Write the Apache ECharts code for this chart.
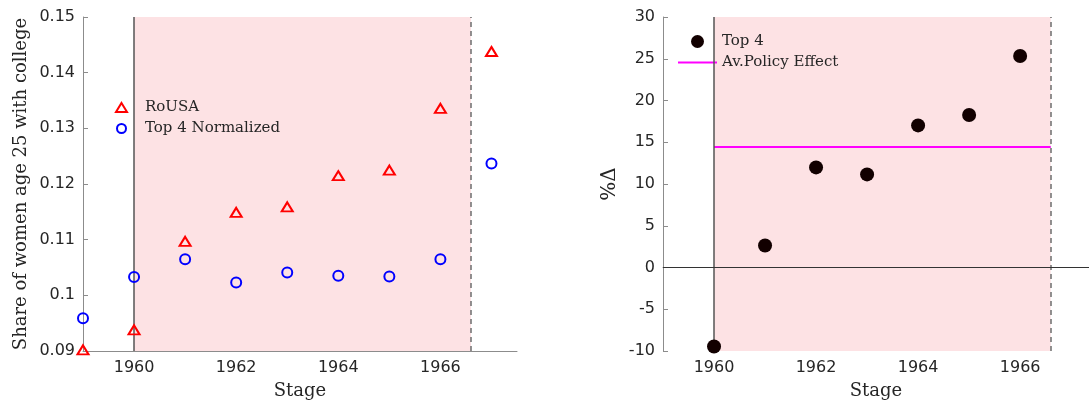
<!DOCTYPE html>
<html><head><meta charset="utf-8">
<script src="https://cdn.jsdelivr.net/npm/echarts@6/dist/echarts.min.js"></script>
<style>html,body{margin:0;padding:0;background:#fff}#c{width:1089px;height:406px}</style>
</head><body><div id="c"></div>
<script>
// ---- data ----
const years = [1959, 1960, 1961, 1962, 1963, 1964, 1965, 1966, 1967];
const rousa = [0.0902, 0.0938, 0.1097, 0.1149, 0.1159, 0.1215, 0.1225, 0.1336, 0.1438];
const top4Normalized = [0.0959, 0.1033, 0.1065, 0.1023, 0.1041, 0.1035, 0.1034, 0.1065, 0.1237];
const effectYears = [1960, 1961, 1962, 1963, 1964, 1965, 1966];
const top4Effect = [-9.47, 2.64, 11.99, 11.15, 17.02, 18.26, 25.33];
const avPolicyEffect = 14.43;
const policyStart = 1960;
const policyEnd = 1966.6;
const xTickValues = [1960, 1962, 1964, 1966];

const zip = (xs, ys) => xs.map((x, i) => [x, ys[i]]);

const SERIF = 'DejaVu Serif';
const SANS = 'DejaVu Sans';
const AXIS_COLOR = '#8c8c8c';
const LABEL_COLOR = '#262626';
const SHADE = '#fde2e4';

function xAxisDef(gridIndex, max) {
  return {
    type: 'value', gridIndex, min: 1959, max,
    name: 'Stage', nameLocation: 'middle', nameGap: 31,
    nameTextStyle: { fontFamily: SERIF, fontSize: 18, color: LABEL_COLOR },
    axisLine: { show: true, lineStyle: { color: AXIS_COLOR, width: 1 } },
    axisTick: { show: true, inside: true, length: 5, customValues: xTickValues, lineStyle: { color: AXIS_COLOR } },
    axisLabel: { customValues: xTickValues, fontFamily: SANS, fontSize: 16, color: LABEL_COLOR, margin: 9,
      formatter: v => String(v) },
    splitLine: { show: false }
  };
}

function guides() {
  return {
    markArea: {
      silent: true,
      itemStyle: { color: SHADE },
      data: [[{ xAxis: policyStart }, { xAxis: policyEnd }]]
    },
    markLine: {
      silent: true, symbol: 'none', animation: false,
      label: { show: false },
      data: [
        { xAxis: policyStart, lineStyle: { color: '#555555', width: 1.5, type: 'solid' } },
        { xAxis: policyEnd, lineStyle: { color: '#6e6e6e', width: 1.5, type: [5, 4] } }
      ]
    }
  };
}

const rightGuides = guides();
rightGuides.markLine.data.push({ yAxis: 0, lineStyle: { color: '#333333', width: 1, type: 'solid' } });

const option = {
  animation: false,
  backgroundColor: '#ffffff',
  grid: [
    { left: 83, top: 17, width: 434, height: 334 },
    { left: 663, top: 17, width: 426, height: 334 }
  ],
  xAxis: [xAxisDef(0, 1967.5), xAxisDef(1, 1967.35)],
  yAxis: [
    {
      type: 'value', gridIndex: 0, min: 0.09, max: 0.15, interval: 0.01,
      name: 'Share of women age 25 with college', nameLocation: 'middle', nameGap: 53,
      nameTextStyle: { fontFamily: SERIF, fontSize: 18, color: LABEL_COLOR },
      axisLine: { show: true, lineStyle: { color: AXIS_COLOR } },
      axisTick: { show: true, inside: true, length: 5, lineStyle: { color: AXIS_COLOR } },
      axisLabel: { fontFamily: SANS, fontSize: 16, color: LABEL_COLOR, margin: 8,
        formatter: v => String(+v.toFixed(2)) },
      splitLine: { show: false }
    },
    {
      type: 'value', gridIndex: 1, min: -10, max: 30, interval: 5,
      name: '%Δ', nameLocation: 'middle', nameGap: 43,
      nameTextStyle: { fontFamily: SERIF, fontSize: 20, color: LABEL_COLOR },
      axisLine: { show: true, lineStyle: { color: AXIS_COLOR } },
      axisTick: { show: true, inside: true, length: 5, lineStyle: { color: AXIS_COLOR } },
      axisLabel: { fontFamily: SANS, fontSize: 16, color: LABEL_COLOR, margin: 8 },
      splitLine: { show: false }
    }
  ],
  legend: [
    {
      left: 110, top: 95, orient: 'vertical', itemWidth: 11, itemHeight: 9, itemGap: 6,
      textStyle: { fontFamily: SERIF, fontSize: 15, color: LABEL_COLOR, padding: [0, 0, 0, 13] },
      data: ['RoUSA', 'Top 4 Normalized']
    },
    {
      left: 672, top: 29, orient: 'vertical', itemWidth: 39, itemHeight: 13, itemGap: 6,
      textStyle: { fontFamily: SERIF, fontSize: 15, color: LABEL_COLOR },
      data: ['Top 4', { name: 'Av.Policy Effect', itemStyle: { opacity: 0 } }]
    }
  ],
  series: [
    Object.assign({
      name: '_guidesLeft', type: 'line', xAxisIndex: 0, yAxisIndex: 0, data: [],
      symbol: 'none', z: 1
    }, guides()),
    {
      name: 'RoUSA', type: 'scatter', xAxisIndex: 0, yAxisIndex: 0,
      data: zip(years, rousa), symbol: 'triangle', symbolSize: [11, 9],
      itemStyle: { color: 'rgba(0,0,0,0)', borderColor: '#ff0000', borderWidth: 2, opacity: 1 }, z: 5
    },
    {
      name: 'Top 4 Normalized', type: 'scatter', xAxisIndex: 0, yAxisIndex: 0,
      data: zip(years, top4Normalized), symbol: 'circle', symbolSize: 10,
      itemStyle: { color: 'rgba(0,0,0,0)', borderColor: '#0000ff', borderWidth: 2, opacity: 1 }, z: 5
    },
    Object.assign({
      name: '_guidesRight', type: 'line', xAxisIndex: 1, yAxisIndex: 1, data: [],
      symbol: 'none', z: 1
    }, rightGuides),
    {
      name: 'Av.Policy Effect', type: 'line', xAxisIndex: 1, yAxisIndex: 1,
      data: [[policyStart, avPolicyEffect], [policyEnd, avPolicyEffect]],
      symbol: 'none', lineStyle: { color: '#ff00ff', width: 2 }, itemStyle: { color: '#ff00ff' }, z: 3
    },
    {
      name: 'Top 4', type: 'scatter', xAxisIndex: 1, yAxisIndex: 1,
      data: zip(effectYears, top4Effect), symbol: 'circle', symbolSize: 14,
      itemStyle: { color: '#120000', opacity: 1 }, z: 5
    }
  ]
};

const chart = echarts.init(document.getElementById('c'), null, { renderer: 'canvas' });
chart.setOption(option);
</script>
</body></html>
